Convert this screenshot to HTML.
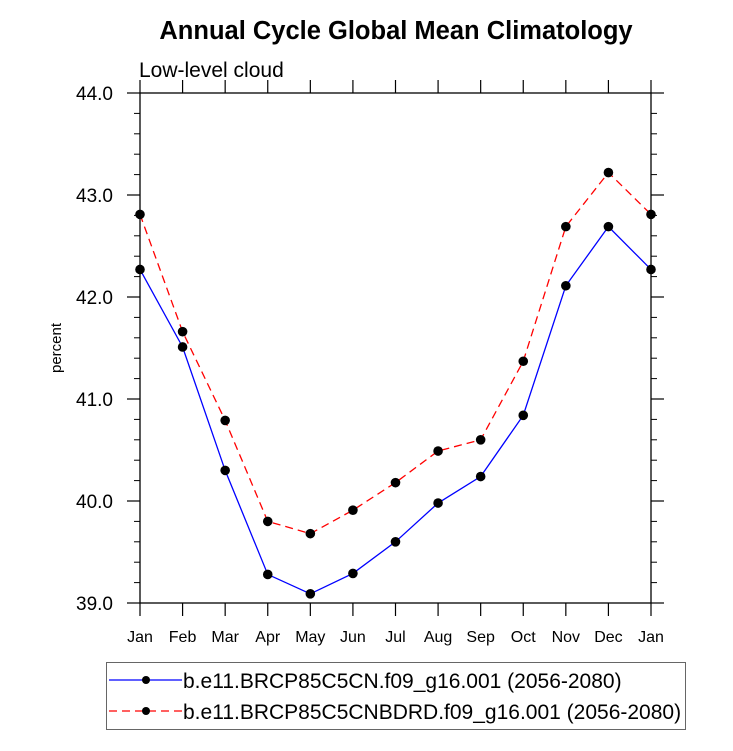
<!DOCTYPE html>
<html><head><meta charset="utf-8"><style>
body{margin:0;background:#fff;}
svg{display:block;font-family:"Liberation Sans",Arial,sans-serif;}
</style></head><body>
<svg id="chart" width="733" height="751" viewBox="0 0 733 751" xmlns="http://www.w3.org/2000/svg">
<text x="396" y="39" text-anchor="middle" font-size="25.5" font-weight="bold">Annual Cycle Global Mean Climatology</text>
<text x="139" y="77" font-size="21">Low-level cloud</text>
<text transform="translate(61,348) rotate(-90)" text-anchor="middle" font-size="15">percent</text>
<g id="axes"></g>
<g id="series"></g>
<g>
<rect x="106.5" y="662.5" width="579" height="67" fill="none" stroke="#666" stroke-width="1"/>
<line x1="109" y1="680" x2="182" y2="680" stroke="#0000ff" stroke-width="1.2"/>
<circle cx="146" cy="680" r="4" fill="#000"/>
<text x="183" y="688" font-size="21">b.e11.BRCP85C5CN.f09_g16.001 (2056-2080)</text>
<line x1="109" y1="711" x2="182" y2="711" stroke="#ff0000" stroke-width="1.2" stroke-dasharray="8,5"/>
<circle cx="146" cy="711" r="4" fill="#000"/>
<text x="183" y="719" font-size="21">b.e11.BRCP85C5CNBDRD.f09_g16.001 (2056-2080)</text>
</g>
</svg>
<script>
const months = ["Jan","Feb","Mar","Apr","May","Jun","Jul","Aug","Sep","Oct","Nov","Dec","Jan"];
const cnValues = [42.27,41.51,40.30,39.28,39.09,39.29,39.60,39.98,40.24,40.84,42.11,42.69,42.27];
const bdrdValues = [42.81,41.66,40.79,39.80,39.68,39.91,40.18,40.49,40.60,41.37,42.69,43.22,42.81];
const yTicks = [39.0,40.0,41.0,42.0,43.0,44.0];
const yTickLabels = ["39.0","40.0","41.0","42.0","43.0","44.0"];

const L=140,R=651,T=93,B=603,yMin=39,yMax=44;
const xs=i=>L+(R-L)*i/(months.length-1);
const ys=v=>B-(v-yMin)/(yMax-yMin)*(B-T);
const NS="http://www.w3.org/2000/svg";
function mk(tag,attrs,parent){const e=document.createElementNS(NS,tag);for(const k in attrs)e.setAttribute(k,attrs[k]);parent.appendChild(e);return e;}
const ax=document.getElementById('axes');
const frame=mk('rect',{x:L,y:T,width:R-L,height:B-T,fill:'none',stroke:'#000','stroke-width':1.3},ax);


months.forEach((m,i)=>{
  const x=xs(i);
  mk('line',{x1:x,y1:B,x2:x,y2:B+13,stroke:'#000','stroke-width':1.2},ax);
  mk('line',{x1:x,y1:T,x2:x,y2:T-13,stroke:'#000','stroke-width':1.2},ax);
  const t=mk('text',{x:x,y:B+39,'text-anchor':'middle','font-size':16},ax);
  t.textContent=m;
  
  
});
for(let v=yMin;v<=yMax+1e-9;v+=0.2){
  const y=ys(v);
  mk('line',{x1:L,y1:y,x2:L-6,y2:y,stroke:'#000'},ax);
  mk('line',{x1:R,y1:y,x2:R+6,y2:y,stroke:'#000'},ax);
}
yTicks.forEach((v,i)=>{
  const y=ys(v);
  mk('line',{x1:L,y1:y,x2:L-13,y2:y,stroke:'#000','stroke-width':1.2},ax);
  mk('line',{x1:R,y1:y,x2:R+13,y2:y,stroke:'#000','stroke-width':1.2},ax);
  const t=mk('text',{x:L-27,y:y+7,'text-anchor':'end','font-size':19},ax);
  t.textContent=yTickLabels[i];
  
  
});
const sg=document.getElementById('series');
function series(vals,color,dash,name){
  const p=mk('polyline',{points:vals.map((v,i)=>xs(i)+','+ys(v)).join(' '),fill:'none',stroke:color,'stroke-width':1.3},sg);
  if(dash)p.setAttribute('stroke-dasharray',dash);
  
  
  vals.forEach((v,i)=>{
    const c=mk('circle',{cx:xs(i),cy:ys(v),r:4.8,fill:'#000'},sg);
    
    
  });
}
series(cnValues,'#0000ff',null,'cn');
series(bdrdValues,'#ff0000','8,5','cnbdrd');
</script>
</body></html>
